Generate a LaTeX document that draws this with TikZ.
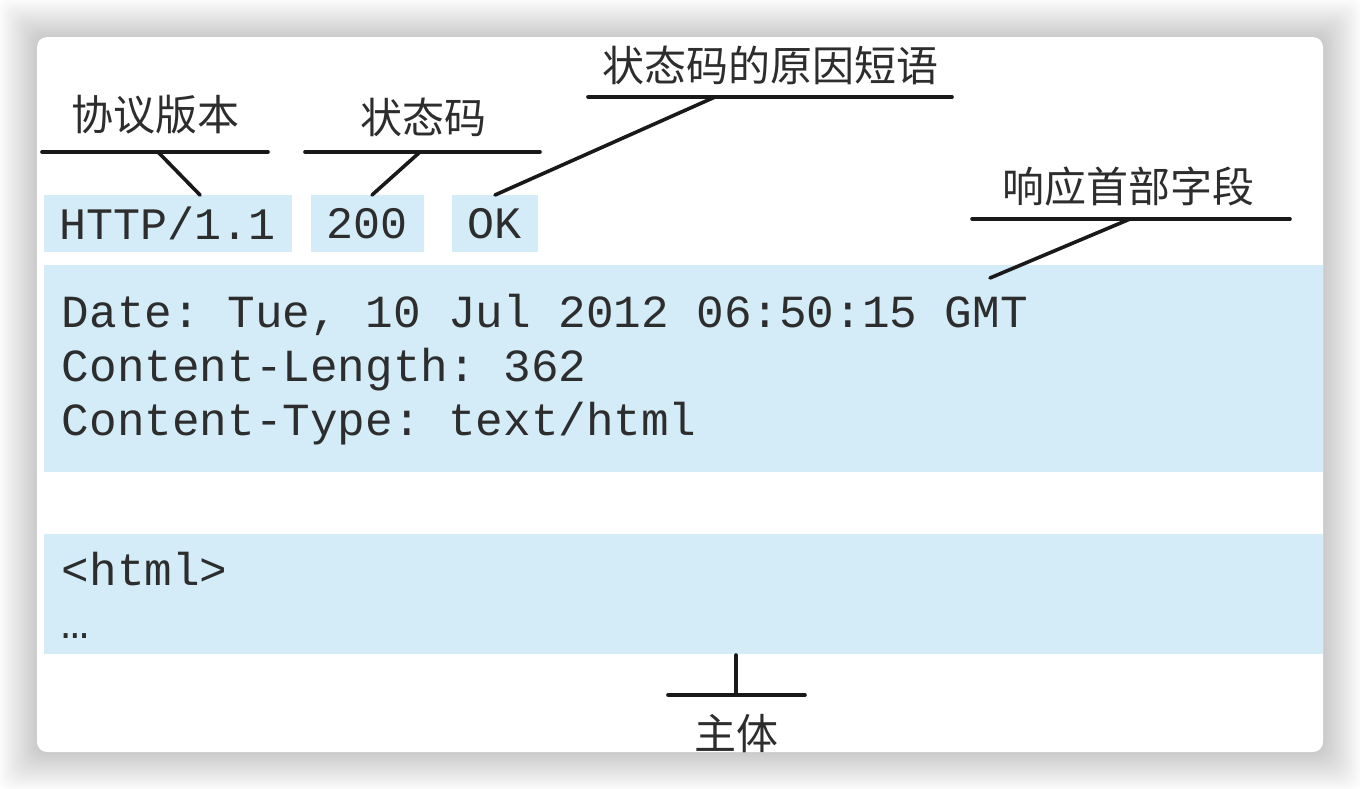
\documentclass[tikz,border=0pt]{standalone}
\usepackage{fontspec}
\setmonofont{Liberation Mono}
\newfontfamily\cjk{Noto Sans CJK SC}
\definecolor{blu}{RGB}{211, 236, 248}
\definecolor{txt}{RGB}{45, 45, 45}

\begin{document}
\begin{tikzpicture}[x=1pt, y=-1pt, line width=3.6pt,
  lbl/.style={font=\cjk\fontsize{42}{42}\selectfont, text=txt, inner sep=0pt},
  fld/.style={fill=blu, font=\ttfamily\fontsize{45}{45}\selectfont, text=txt,
    inner xsep=16pt, inner ysep=0pt, minimum height=57pt, anchor=west},
  blk/.style={fill=blu, inner sep=0pt, anchor=north west, minimum width=1281pt},
  code/.style={font=\ttfamily\fontsize{46}{46}\selectfont, text=txt, inner sep=0pt, anchor=base west},
  leader/.style={draw=black!90, line cap=round}]
  \useasboundingbox (0,0) rectangle (1360,788);
  \fill[white] (0,0) rectangle (1360,788);

  % shadow and card
  \foreach \s in {40,39,...,1}{
    \pgfmathsetmacro\g{21*(40-\s)/40}
    \fill[black!\g, rounded corners=12pt]
      (37-\s,37-\s) rectangle (1323+\s,752+\s);
  }
  \fill[white, rounded corners=10pt] (37,37) rectangle (1323,752);

  \begin{scope}
  \clip[rounded corners=10pt] (37,37) rectangle (1323,752);

  % status line
  \node[fld] (vbox) at (42,223.5) {HTTP/1.1};
  \node[fld] (cbox) at (309,223.5) {200};
  \node[fld] (rbox) at (450,223.5) {OK};

  % header and body
  \node[blk, minimum height=207pt] (hdr) at (42,263) {};
  \node[code] (l1) at (60,327) {Date: Tue, 10 Jul 2012 06:50:15 GMT};
  \node[code] (l2) at (60,381) {Content-Length: 362};
  \node[code] (l3) at (60,435) {Content-Type: text/html};
  \node[blk, minimum height=120pt] (bdy) at (42,532) {};
  \node[code] (l4) at (60,585) {<html>};
  \node[code] (l5) at (60,638) {…};

  % labels
  \node[lbl] (ver) at (155,115) {协议版本};
  \node[lbl] (cod) at (423,117) {状态码};
  \node[lbl] (why) at (770,65) {状态码的原因短语};
  \node[lbl] (hds) at (1128,187) {响应首部字段};
  \node[lbl] (mai) at (736,734) {主体};

  \coordinate (ver-a) at (42,152);   \coordinate (ver-b) at (268,152);
  \coordinate (ver-k) at (158,152);  \coordinate (ver-t) at (200,195);
  \coordinate (cod-a) at (305,152);  \coordinate (cod-b) at (540,152);
  \coordinate (cod-k) at (420,152);  \coordinate (cod-t) at (372,195);
  \coordinate (why-a) at (588,97);   \coordinate (why-b) at (952,97);
  \coordinate (why-k) at (715,97);   \coordinate (why-t) at (495,195);
  \coordinate (hds-a) at (972,219);  \coordinate (hds-b) at (1290,219);
  \coordinate (hds-k) at (1130,219); \coordinate (hds-t) at (990,278);
  \coordinate (mai-a) at (668,695);  \coordinate (mai-b) at (805,695);
  \coordinate (mai-k) at (736,695);  \coordinate (mai-t) at (736,655);

  \foreach \from/\to in {ver-a/ver-b, ver-k/ver-t, cod-a/cod-b, cod-k/cod-t,
      why-a/why-b, why-k/why-t, hds-a/hds-b, hds-k/hds-t, mai-a/mai-b, mai-k/mai-t}
    \draw[leader] (\from) -- (\to);
  \end{scope}
\end{tikzpicture}
\end{document}
